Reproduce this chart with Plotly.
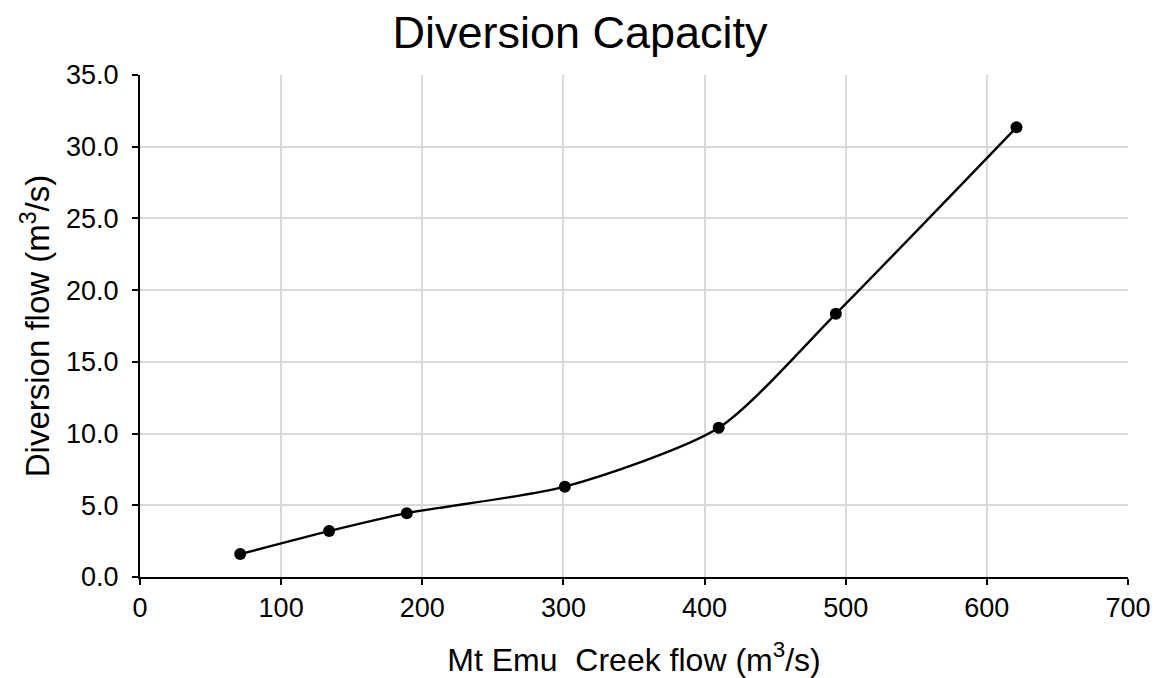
import plotly.graph_objects as go

creek_flow = [71, 134, 189, 301, 410, 493, 621]
diversion_flow = [1.6, 3.2, 4.45, 6.3, 10.4, 18.35, 31.35]
x_ticks = [0, 100, 200, 300, 400, 500, 600, 700]
y_ticks = [0, 5, 10, 15, 20, 25, 30, 35]

fig = go.Figure()
fig.add_trace(go.Scatter(
    x=creek_flow, y=diversion_flow, mode="lines+markers",
    line=dict(color="black", width=2.4, shape="spline", smoothing=0.7),
    marker=dict(color="black", size=12),
    showlegend=False,
))

font = "Liberation Sans, Arial, sans-serif"
fig.update_layout(
    width=1160, height=678,
    paper_bgcolor="white", plot_bgcolor="white",
    margin=dict(l=140, r=32, t=75, b=101),
    title=dict(text="Diversion Capacity", x=0.5, xanchor="center", y=0.975, yanchor="top",
               font=dict(family=font, size=45, color="black")),
    font=dict(family=font, color="black"),
)
fig.update_xaxes(
    range=[0, 700], tickvals=x_ticks, ticktext=[str(v) for v in x_ticks],
    showgrid=True, gridcolor="#d9d9d9", gridwidth=2,
    showline=True, linecolor="black", linewidth=2,
    ticks="outside", ticklen=6, tickwidth=2, tickcolor="black",
    tickfont=dict(size=27, family=font), zeroline=False, automargin=False,
    title=dict(text="Mt Emu  Creek flow (m<sup>3</sup>/s)", font=dict(size=32, family=font), standoff=26),
)
fig.update_yaxes(
    range=[0, 35], tickvals=y_ticks, ticktext=[f"{v:.1f}" for v in y_ticks],
    showgrid=True, gridcolor="#d9d9d9", gridwidth=2,
    showline=True, linecolor="black", linewidth=2,
    ticks="outside", ticklen=6, tickwidth=2, tickcolor="black",
    tickfont=dict(size=27, family=font), zeroline=False, ticklabelstandoff=8, automargin=False,
    title=dict(text="Diversion flow (m<sup>3</sup>/s)", font=dict(size=33, family=font), standoff=6),
)
fig.write_html("out.html", config={"displayModeBar": False},
               post_script="document.body.style.margin='0';document.body.style.overflow='hidden';")
